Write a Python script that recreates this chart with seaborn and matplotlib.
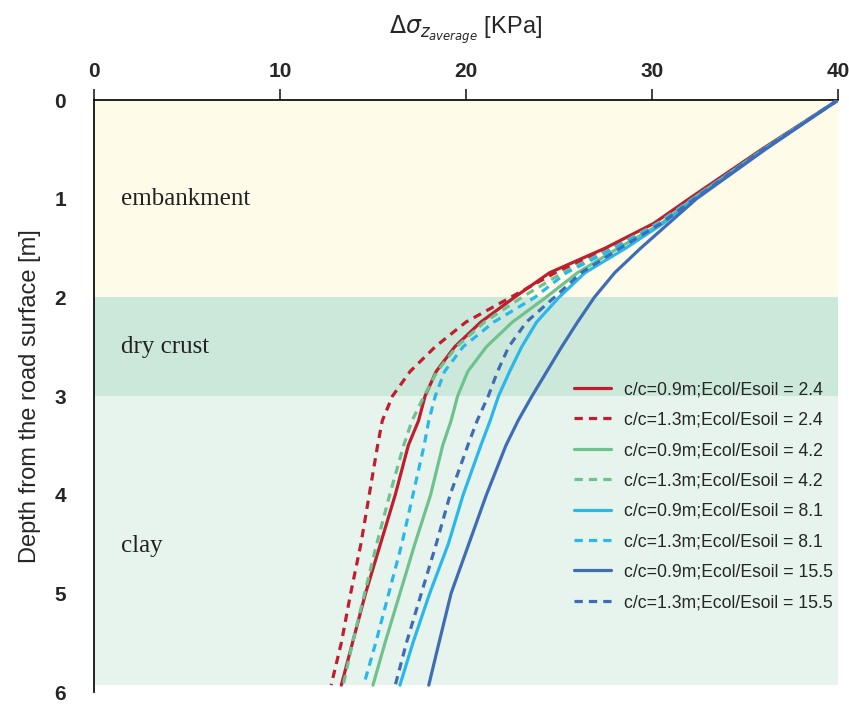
import numpy as np
import pandas as pd
import seaborn as sns
import matplotlib.pyplot as plt

# depth below road surface [m], shared by all curves
depth = [0, 0.5, 1.0, 1.25, 1.5, 1.75, 2.0, 2.25, 2.5, 2.75, 3.0, 3.25, 3.5, 4.0, 4.5, 5.0, 5.5, 5.93]

# average vertical stress increase [KPa] for each case
cc09_e24 = [40, 35.9, 32.0, 30.1, 27.5, 24.5, 22.6, 20.8, 19.4, 18.4, 17.8, 17.45, 16.9, 16.2, 15.4, 14.6, 13.9, 13.3]
cc13_e24 = [40, 36.0, 32.1, 30.2, 27.7, 24.8, 22.4, 20.0, 18.35, 17.0, 16.05, 15.5, 15.25, 14.8, 14.35, 13.8, 13.3, 12.75]
cc09_e42 = [40, 36.0, 32.2, 30.5, 28.2, 26.0, 24.3, 22.5, 21.1, 20.1, 19.55, 19.2, 18.75, 18.1, 17.25, 16.45, 15.65, 15.0]
cc13_e42 = [40, 36.0, 32.2, 30.3, 27.9, 25.2, 23.0, 21.0, 19.5, 18.45, 17.75, 17.1, 16.65, 15.9, 15.2, 14.55, 13.9, 13.4]
cc09_e81 = [40, 36.0, 32.3, 30.6, 28.6, 26.4, 25.0, 23.8, 23.0, 22.35, 21.75, 21.3, 20.8, 19.85, 19.05, 18.05, 17.15, 16.45]
cc13_e81 = [40, 36.0, 32.2, 30.4, 28.0, 25.4, 23.7, 21.5, 19.85, 18.85, 18.35, 18.0, 17.75, 17.15, 16.55, 15.85, 15.15, 14.5]
cc09_e155 = [40, 36.1, 32.4, 30.9, 29.4, 28.0, 26.9, 26.0, 25.15, 24.35, 23.55, 22.8, 22.15, 21.1, 20.15, 19.2, 18.55, 18.0]
cc13_e155 = [40, 36.0, 32.3, 30.5, 28.3, 26.2, 24.75, 23.25, 22.3, 21.7, 21.2, 20.6, 20.1, 19.15, 18.4, 17.6, 16.8, 16.2]

labels = ['c/c=0.9m;Ecol/Esoil = 2.4', 'c/c=1.3m;Ecol/Esoil = 2.4',
          'c/c=0.9m;Ecol/Esoil = 4.2', 'c/c=1.3m;Ecol/Esoil = 4.2',
          'c/c=0.9m;Ecol/Esoil = 8.1', 'c/c=1.3m;Ecol/Esoil = 8.1',
          'c/c=0.9m;Ecol/Esoil = 15.5', 'c/c=1.3m;Ecol/Esoil = 15.5']
series = [cc09_e24, cc13_e24, cc09_e42, cc13_e42, cc09_e81, cc13_e81, cc09_e155, cc13_e155]
colors = ['#be1e2d', '#be1e2d', '#6fc28f', '#6fc28f', '#2ab7ec', '#2ab7ec', '#3e6db5', '#3e6db5']

# soil layers: name, top, bottom, label depth, colour
layers = [('embankment', 0, 2, 1.0, '#fefce9'), ('dry crust', 2, 3, 2.5, '#cce8da'),
          ('clay', 3, 5.93, 4.52, '#e6f4ed')]

sns.set_style('white')
plt.rcParams['font.family'] = ['Liberation Sans', 'DejaVu Sans']

fig = plt.figure(figsize=(8.49, 7.06), dpi=100)
ax = fig.add_axes([0.1107, 0.0198, 0.8763, 0.8385])

for name, top, bot, ty, col in layers:
    ax.axhspan(top, bot, color=col, lw=0, zorder=0)
    ax.text(1.45, ty, name, family='Liberation Serif', fontsize=18,
            va='center', ha='left', color='#222222')

for i, (vals, lab, col) in enumerate(zip(series, labels, colors)):
    df = pd.DataFrame({'x': vals, 'depth': depth})
    ls = '-' if i % 2 == 0 else (0, (2.6, 1.9))
    sns.lineplot(data=df, x='x', y='depth', sort=False, estimator=None, color=col,
                 linestyle=ls, lw=2.3, label=lab, ax=ax, zorder=3)

ax.set_xlim(0, 40)
ax.set_ylim(6, 0)
ax.xaxis.tick_top()
ax.xaxis.set_label_position('top')
ax.set_xticks([0, 10, 20, 30, 40])
ax.set_yticks([0, 1, 2, 3, 4, 5, 6])
ax.tick_params(axis='both', direction='out', length=8, width=1.2, color='#222222',
               labelsize=15)
ax.tick_params(axis='x', pad=6)
ax.tick_params(axis='y', pad=12)
for t in ax.get_xticklabels() + ax.get_yticklabels():
    t.set_fontweight('bold')
for s in ['right', 'bottom']:
    ax.spines[s].set_visible(False)
for s in ['top', 'left']:
    ax.spines[s].set_color('#111111')
    ax.spines[s].set_linewidth(1.3)

ax.set_xlabel(r'$\Delta\sigma_{z_{average}}$ [KPa]', fontsize=17, labelpad=20)
ax.set_ylabel('Depth from the road surface [m]', fontsize=17, labelpad=10)

ax.legend(loc='upper left', bbox_to_anchor=(0.645, 0.525), frameon=False, fontsize=12.7,
          handlelength=2.1, handletextpad=0.75, labelspacing=0.76, borderaxespad=0, borderpad=0)

fig.savefig('out.png', dpi=100)
